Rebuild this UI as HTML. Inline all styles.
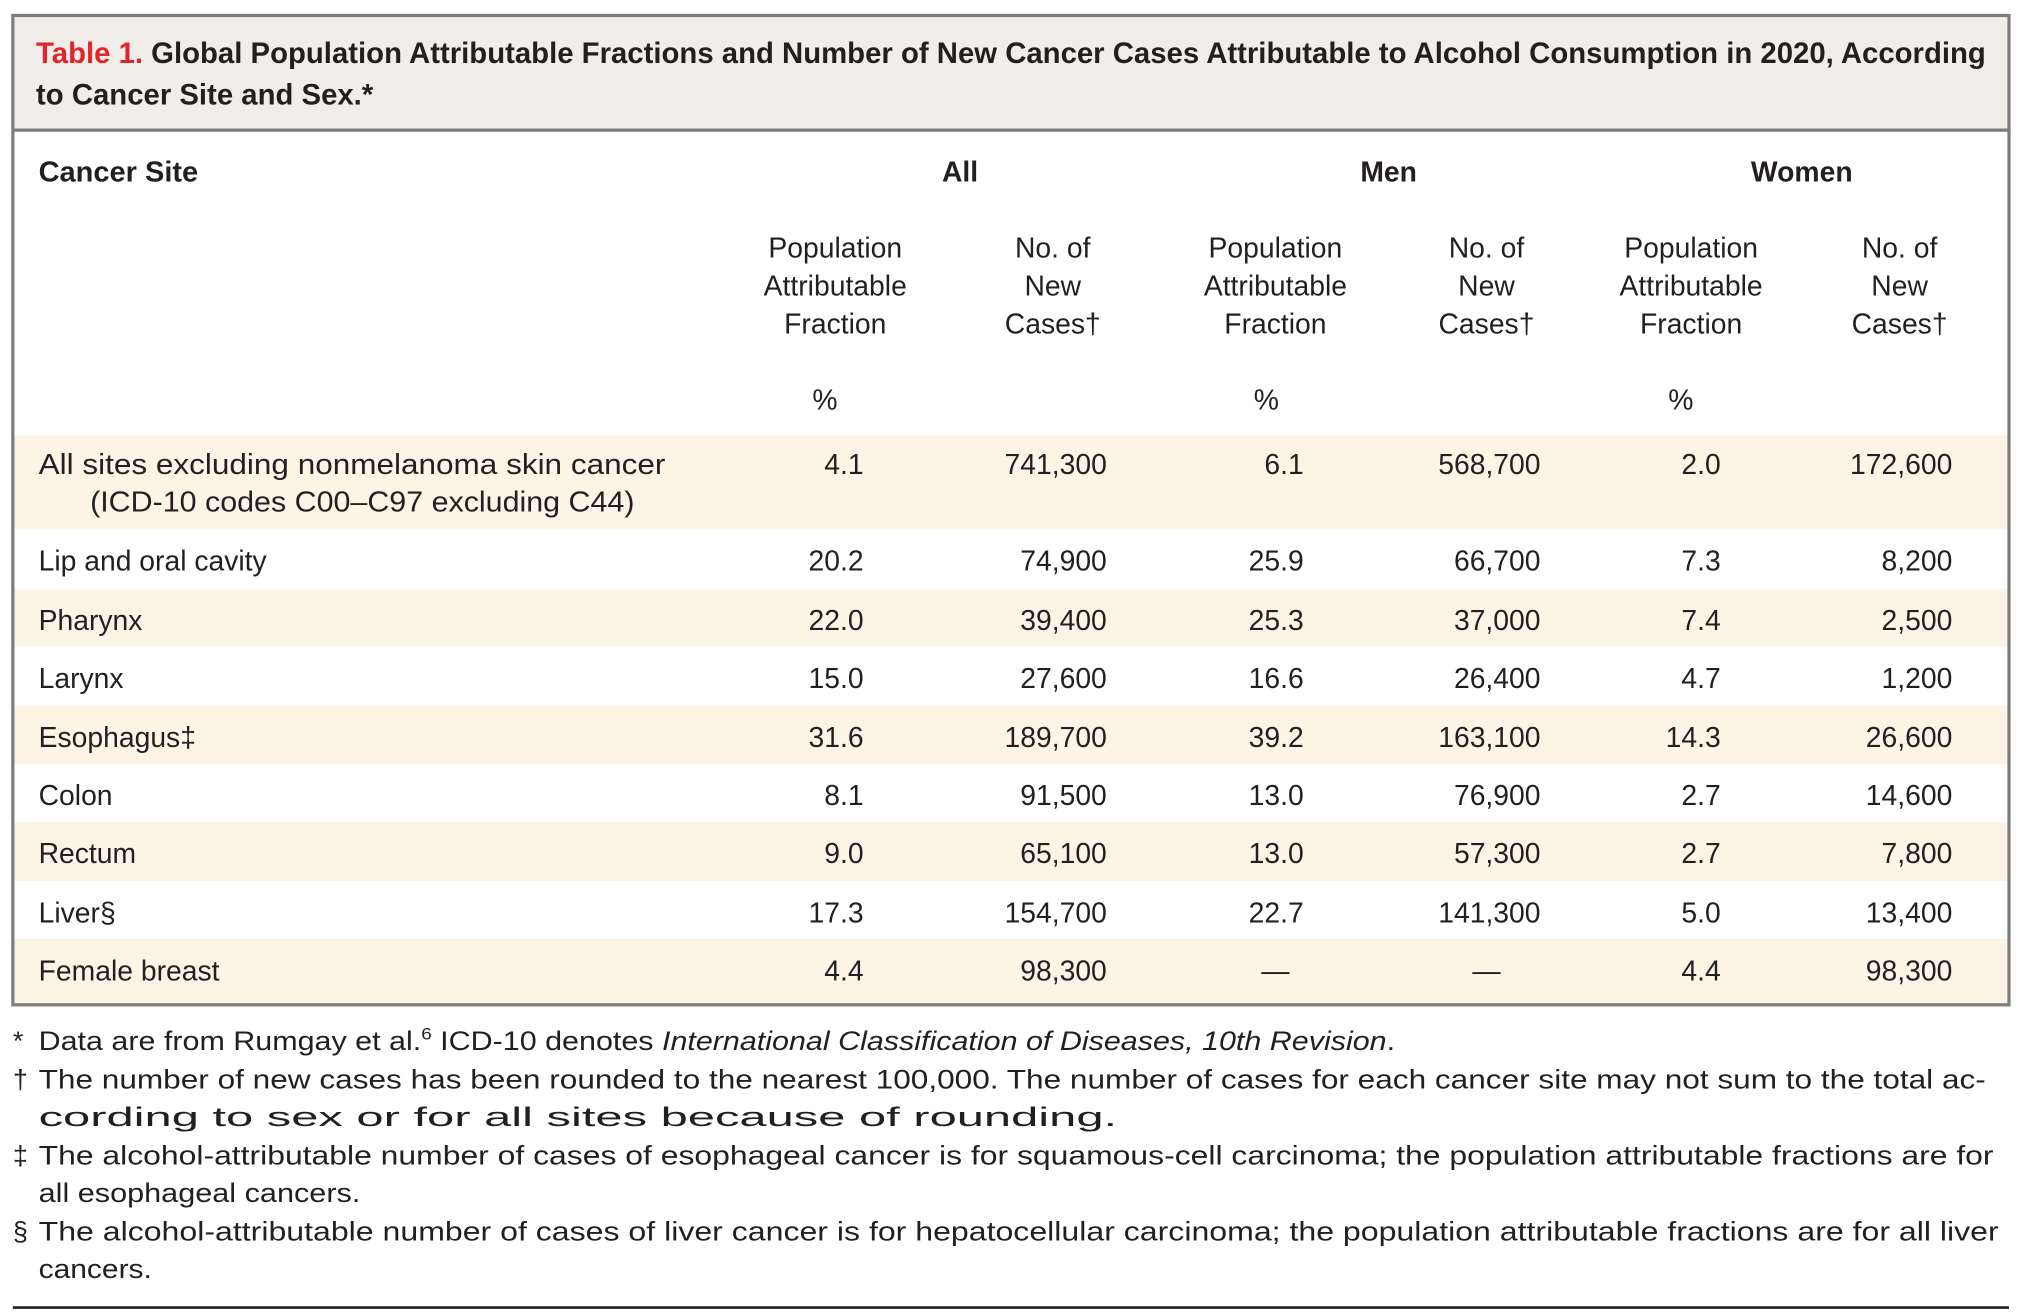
<!DOCTYPE html>
<html><head><meta charset="utf-8"><style>
html,body{margin:0;padding:0;background:#fff;}
svg{display:block;}
text{font-family:"Liberation Sans",sans-serif;fill:#231f20;}
.b{font-weight:bold;}
</style></head>
<body>
<svg id="tbl" width="2018" height="1314" viewBox="0 0 1568 1020" preserveAspectRatio="none" xmlns="http://www.w3.org/2000/svg">
<rect x="10" y="12" width="1551" height="89" fill="#f1eeea"/>
<g id="bands"></g>
<rect x="10" y="12" width="1551" height="768" fill="none" stroke="#7d7d7d" stroke-width="2.5"/>
<line x1="10" y1="101" x2="1561" y2="101" stroke="#7d7d7d" stroke-width="2.5"/>
<text class="b" x="28" y="49" font-size="23" textLength="1515" lengthAdjust="spacingAndGlyphs"><tspan fill="#e0252b">Table 1.</tspan> Global Population Attributable Fractions and Number of New Cancer Cases Attributable to Alcohol Consumption in 2020, According</text>
<text class="b" x="28" y="81" font-size="23" textLength="262" lengthAdjust="spacingAndGlyphs">to Cancer Site and Sex.*</text>
<text class="b" x="30" y="141" font-size="22" textLength="124" lengthAdjust="spacingAndGlyphs">Cancer Site</text>
<text class="b" x="746" y="141" font-size="22" text-anchor="middle">All</text>
<text class="b" x="1079" y="141" font-size="22" text-anchor="middle">Men</text>
<text class="b" x="1400" y="141" font-size="22" text-anchor="middle">Women</text>
<g id="sub"></g>
<g id="rows"></g>
<g id="notes" font-size="21"></g>
<line x1="10" y1="1015" x2="1561" y2="1015" stroke="#231f20" stroke-width="2"/>
</svg>
<script>
const sites = ["All sites excluding nonmelanoma skin cancer","Lip and oral cavity","Pharynx","Larynx","Esophagus‡","Colon","Rectum","Liver§","Female breast"];
const pafAll = ["4.1","20.2","22.0","15.0","31.6","8.1","9.0","17.3","4.4"];
const casesAll = ["741,300","74,900","39,400","27,600","189,700","91,500","65,100","154,700","98,300"];
const pafMen = ["6.1","25.9","25.3","16.6","39.2","13.0","13.0","22.7","—"];
const casesMen = ["568,700","66,700","37,000","26,400","163,100","76,900","57,300","141,300","—"];
const pafWomen = ["2.0","7.3","7.4","4.7","14.3","2.7","2.7","5.0","4.4"];
const casesWomen = ["172,600","8,200","2,500","1,200","26,600","14,600","7,800","13,400","98,300"];

const NS="http://www.w3.org/2000/svg";
function t(parent,x,y,str,opts){
  const e=document.createElementNS(NS,'text');
  e.setAttribute('x',x);e.setAttribute('y',y);
  for(const k in (opts||{})) e.setAttribute(k,opts[k]);
  e.textContent=str;parent.appendChild(e);return e;
}
// row geometry
const rowTop=[338,411,457,502,548,593,638,684,729];
const rowBot=[411,457,502,548,593,638,684,729,779];
const bands=document.getElementById('bands');
for(let i=0;i<rowTop.length;i+=2){
  const r=document.createElementNS(NS,'rect');
  r.setAttribute('x',10);r.setAttribute('y',rowTop[i]);r.setAttribute('width',1551);r.setAttribute('height',rowBot[i]-rowTop[i]);r.setAttribute('fill','#fdf4e6');
  
  
  bands.appendChild(r);
}
// subheaders
const sub=document.getElementById('sub');
[649,991,1314].forEach(cx=>{
  ["Population","Attributable","Fraction"].forEach((w,j)=>{
    const e=t(sub,cx,200+j*29.5,w,{'font-size':22,'text-anchor':'middle'});
    
    
  });
});
[818,1155,1476].forEach(cx=>{
  ["No. of","New","Cases†"].forEach((w,j)=>{
    const e=t(sub,cx,200+j*29.5,w,{'font-size':22,'text-anchor':'middle'});
    
    
  });
});
[641,984,1306].forEach(cx=>{
  const e=t(sub,cx,318,"%",{'font-size':22,'text-anchor':'middle'});
  
  
});
// rows
const rows=document.getElementById('rows');
const baseY=[368,443,489,534,580,625,670,716,761];
const cols=[[pafAll,671],[casesAll,860],[pafMen,1013],[casesMen,1197],[pafWomen,1337],[casesWomen,1517]];
const dashCenters=[null,null,991,1155,null,null];
sites.forEach((s,i)=>{
  const y=baseY[i];
  const lab=t(rows,30,y,s,{'font-size':22});
  if(i===0) lab.setAttribute('textLength',487), lab.setAttribute('lengthAdjust','spacingAndGlyphs');
  
  
  if(i===0){
    const l2=t(rows,70,397,"(ICD-10 codes C00–C97 excluding C44)",{'font-size':22,'textLength':423,'lengthAdjust':'spacingAndGlyphs'});
    
    
  }
  cols.forEach(([arr,rx],c)=>{
    const v=arr[i];
    let e;
    if(v==="—"&&dashCenters[c]) e=t(rows,dashCenters[c],y,v,{'font-size':22,'text-anchor':'middle'});
    else e=t(rows,rx,y,v,{'font-size':22,'text-anchor':'end'});
    
    
  });
});
// footnotes
const notes=document.getElementById('notes');
const fn=[
 [10,815,"*",null],[30,815,null,1054],
 [10,845,"†",null],[30,845,"The number of new cases has been rounded to the nearest 100,000. The number of cases for each cancer site may not sum to the total ac-",1513],
 [30,874,"cording to sex or for all sites because of rounding.",838],
 [10,904,"‡",null],[30,904,"The alcohol-attributable number of cases of esophageal cancer is for squamous-cell carcinoma; the population attributable fractions are for",1519],
 [30,933,"all esophageal cancers.",250],
 [10,963,"§",null],[30,963,"The alcohol-attributable number of cases of liver cancer is for hepatocellular carcinoma; the population attributable fractions are for all liver",1523],
 [30,992,"cancers.",88]
];
fn.forEach(([x,y,s,w])=>{
  let e;
  if(s===null){
    e=t(notes,x,y,"",{'textLength':w,'lengthAdjust':'spacingAndGlyphs'});
    e.innerHTML='Data are from Rumgay et al.<tspan font-size="13" dy="-8">6</tspan><tspan dy="8"> ICD-10 denotes </tspan><tspan font-style="italic">International Classification of Diseases, 10th Revision</tspan>.';
  } else {
    const o={};
    if(w){o.textLength=w;o.lengthAdjust='spacingAndGlyphs';}
    e=t(notes,x,y,s,o);
  }
  
  
});
</script>
</body></html>
